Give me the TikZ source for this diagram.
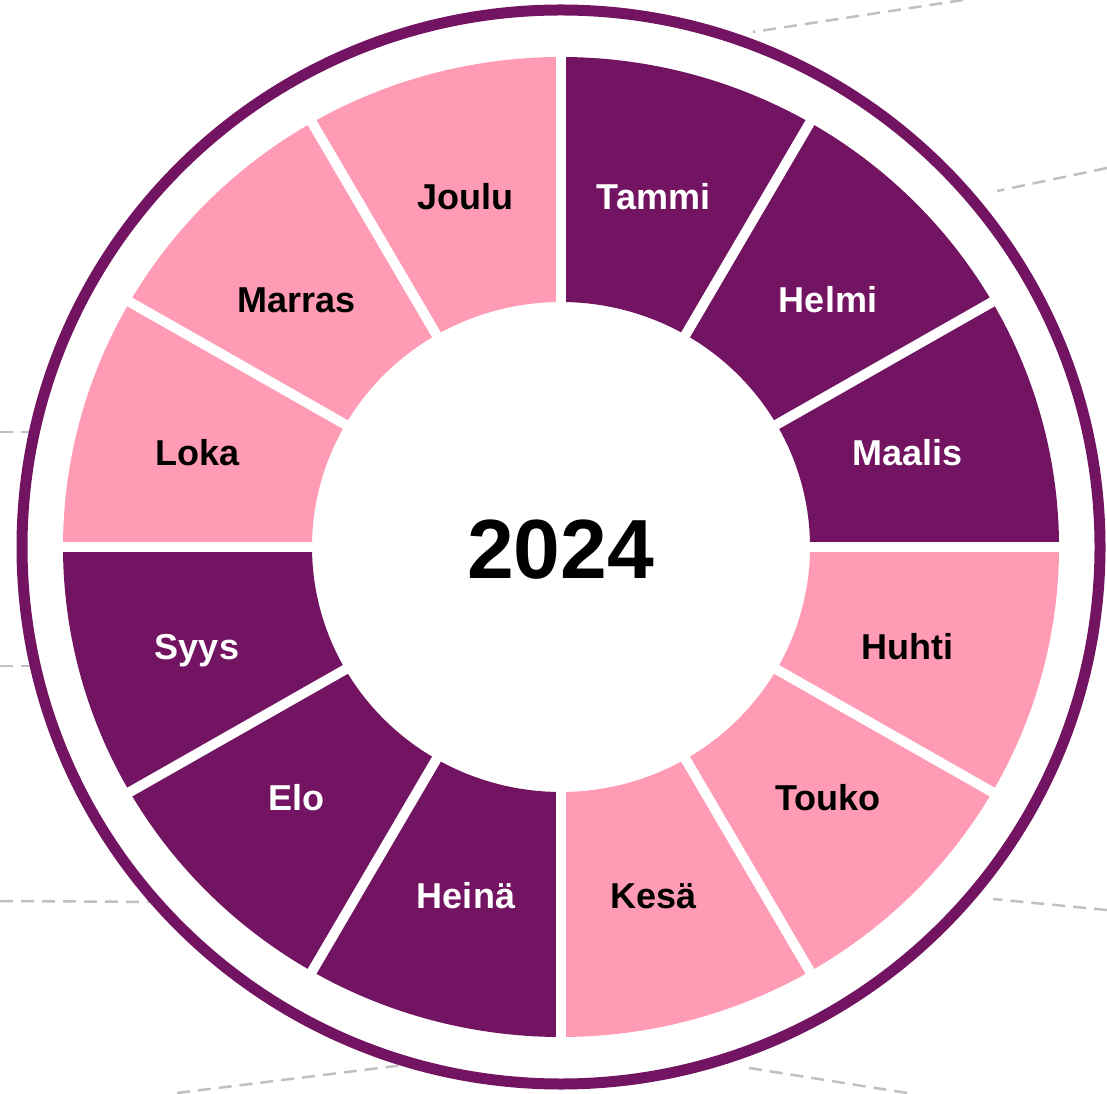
\documentclass[tikz,border=0pt]{standalone}
\usepackage{fontspec}
\setmainfont{Liberation Sans}
\definecolor{wheelpurple}{RGB}{114,20,98}
\definecolor{wheelpink}{RGB}{255,155,180}
\definecolor{dashgrey}{RGB}{192,192,192}
\tikzset{
  month/.style={font=\fontsize{36}{40}\selectfont\bfseries, text height=26pt, text depth=0pt, inner sep=0pt, anchor=center},
  onpurple/.style={month, text=white},
  onpink/.style={month, text=black},
  guide/.style={draw=dashgrey, line width=2.5pt, dash pattern=on 13pt off 8pt},
  ringline/.style={draw=wheelpurple, line width=11pt},
  ringfill/.style={fill=white},
  gapline/.style={draw=white, line width=10pt},
}
\begin{document}
\begin{tikzpicture}[x=1pt,y=1pt]
\useasboundingbox (0,0) rectangle (1107,1093);
\clip (0,0) rectangle (1107,1093);
% wheel background (white inside the ring)
\begin{scope}[shift={(561,546)}]
  \path[ringfill] (0,0) ellipse [x radius=534, y radius=532];
\end{scope}
% guide connectors (ends meet the ring)
\coordinate (g1a) at (753,1061); \coordinate (g1b) at (963,1093);
\coordinate (g2a) at (997,902);  \coordinate (g2b) at (1107,925);
\coordinate (g3a) at (0,661);    \coordinate (g3b) at (42,661);
\coordinate (g4a) at (0,427);    \coordinate (g4b) at (42,427);
\coordinate (g5a) at (0,192);    \coordinate (g5b) at (163,191);
\coordinate (g6a) at (177,0);    \coordinate (g6b) at (420,30);
\coordinate (g7a) at (1107,183); \coordinate (g7b) at (993,194);
\coordinate (g8a) at (907,0);    \coordinate (g8b) at (743,26);
\coordinate (g1c) at (963,1093);
\draw[guide] (g1b) -- (g1a);
\draw[guide] (g2b) -- (g2a);
\foreach \i in {3,...,8} \draw[guide] (g\i a) -- (g\i b);
\begin{scope}[shift={(561,546)}]
  \path[ringfill] (0,0) ellipse [x radius=527, y radius=525];
  \path[ringline] (0,0) ellipse [x radius=539, y radius=537];
  \foreach \a/\c in {0/wheelpurple,30/wheelpurple,60/wheelpurple,90/wheelpink,120/wheelpink,150/wheelpink,180/wheelpurple,210/wheelpurple,240/wheelpurple,270/wheelpink,300/wheelpink,330/wheelpink}{
    \pgfmathsetmacro{\b}{\a+30}
    \fill[\c] (\a:498 and 490) arc[start angle=\a, end angle=\b, x radius=498, y radius=490]
      -- (\b:249 and 245) arc[start angle=\b, end angle=\a, x radius=249, y radius=245] -- cycle;
  }
  \foreach \a in {0,30,...,330} \draw[gapline] (\a:240 and 236) -- (\a:506 and 498);
\end{scope}
% labels
\node[onpurple] (tammi)  at (653.5,896) {Tammi};
\node[onpurple] (helmi)  at (828,793)   {Helmi};
\node[onpurple] (maalis) at (907.5,640) {Maalis};
\node[onpink]   (huhti)  at (907.5,447) {Huhti};
\node[onpink]   (touko)  at (828,296)   {Touko};
\node[onpink]   (kesa)   at (653.5,198) {Kesä};
\node[onpurple] (heina)  at (466,198)   {Heinä};
\node[onpurple] (elo)    at (296.5,296) {Elo};
\node[onpurple] (syys)   at (197,447)   {Syys};
\node[onpink]   (loka)   at (197.5,640) {Loka};
\node[onpink]   (marras) at (296.5,793) {Marras};
\node[onpink]   (joulu)  at (465.5,896) {Joulu};
\node[font=\fontsize{84}{90}\selectfont\bfseries, text height=60pt, text depth=0pt, inner sep=0pt] (year) at (560.5,544) {2024};
\end{tikzpicture}
\end{document}
